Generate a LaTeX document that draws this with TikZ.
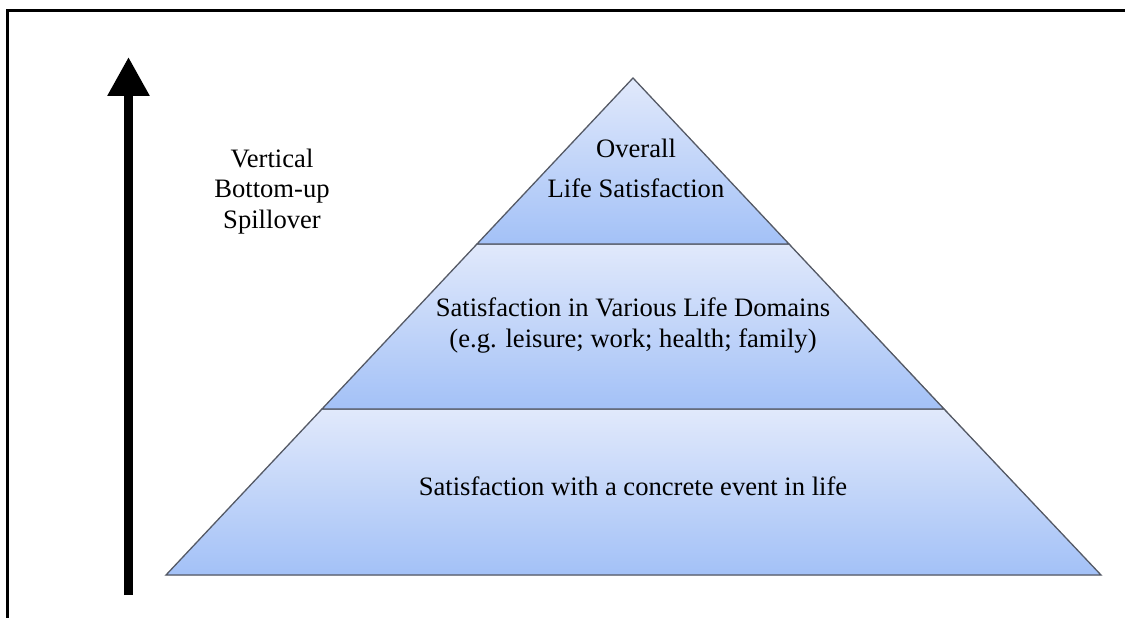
\documentclass[tikz,border=0pt]{standalone}
\usepackage{fontspec}
\setmainfont{Liberation Serif}
\newfontfamily\labelfont{Liberation Serif}
\usetikzlibrary{arrows.meta}
\definecolor{tiertop}{HTML}{E1E9FB}
\definecolor{tierbottom}{HTML}{A3C1F7}
\definecolor{tieredge}{HTML}{555A66}
\begin{document}
\begin{tikzpicture}[x=1pt,y=-1pt,
  tier/.style={top color=tiertop,bottom color=tierbottom},
  tierline/.style={draw=tieredge,line width=1.3pt,line join=miter},
  label/.style={font=\labelfont\fontsize{26.6}{30.5}\selectfont,align=center,inner sep=0pt},
  frameline/.style={draw=black,line width=3pt,line join=miter},
  bigarrow/.style={draw=black,line width=9pt,-{Triangle[width=40pt,length=39pt]}}
]
\useasboundingbox (0,0) rectangle (1125,618);

% outer frame (only its top and left edges fall on the page)
\coordinate (fBL) at (7,618);
\coordinate (fTL) at (7,11);
\coordinate (fTR) at (1125,11);
\draw[frameline] (fBL) -- (fTL) -- (fTR);

% pyramid corners
\coordinate (apex) at (633,78);
\coordinate (l1) at (477,244);  \coordinate (r1) at (789,244);
\coordinate (l2) at (322,409);  \coordinate (r2) at (944,409);
\coordinate (l3) at (166,575);  \coordinate (r3) at (1101,575);

% soft shadow under the base
\foreach \d/\o in {1/0.2,2/0.15,3/0.11,4/0.08,5/0.06,6/0.04,7/0.03,8/0.02}
  \fill[black,opacity=\o,xshift=0.4*\d pt,yshift=-\d pt] (apex) -- (l3) -- (r3) -- cycle;

% tiers
\shade[tier] (l2) -- (l3) -- (r3) -- (r2) -- cycle;
\draw[tierline] (l2) -- (l3) -- (r3) -- (r2) -- cycle;
\shade[tier] (l1) -- (l2) -- (r2) -- (r1) -- cycle;
\draw[tierline] (l1) -- (l2) -- (r2) -- (r1) -- cycle;
\shade[tier] (apex) -- (l1) -- (r1) -- cycle;
\draw[tierline] (apex) -- (l1) -- (r1) -- cycle;

% tier labels (base anchor = baseline of the last line)
\node[label,anchor=base] (top) at (636,197) {Overall\\[9.5pt]Life Satisfaction};
\node[label,anchor=base] (mid) at (633,347) {Satisfaction in Various Life Domains\\(e.g. leisure; work; health; family)};
\node[label,anchor=base] (low) at (633,495) {Satisfaction with a concrete event in life};

% spillover arrow and its label
\coordinate (afoot) at (128.5,595);
\coordinate (atip) at (128.5,57);
\draw[bigarrow] (afoot) -- (atip);
\node[label,anchor=base] (spill) at (272,228) {Vertical\\Bottom-up\\Spillover};
\end{tikzpicture}
\end{document}
